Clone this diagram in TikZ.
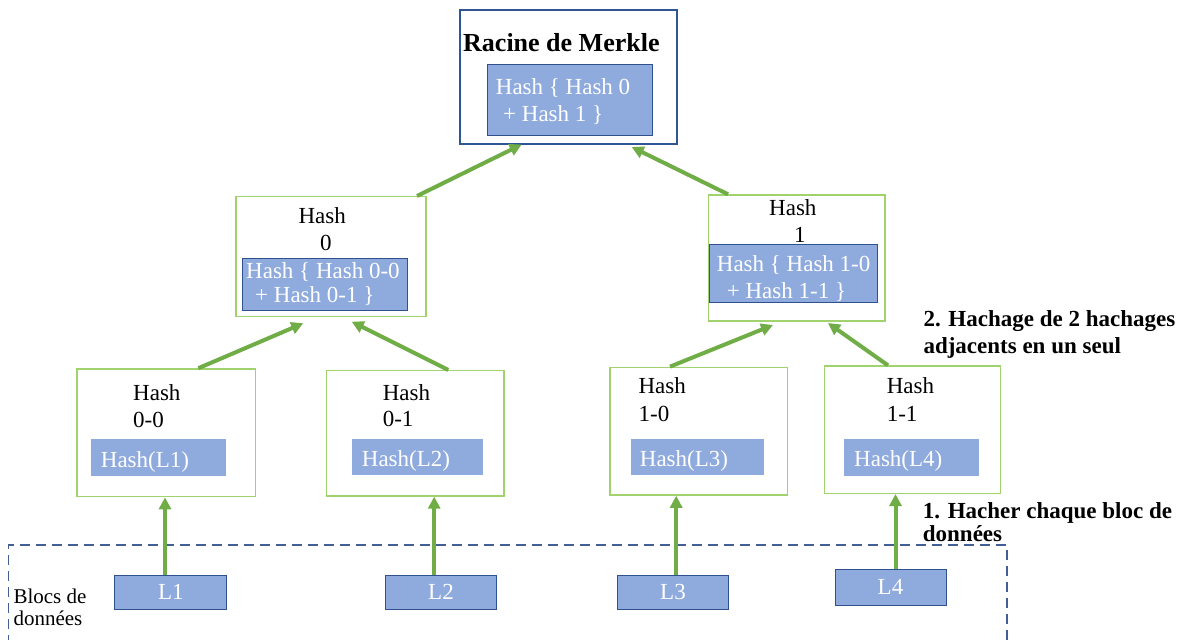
\documentclass[tikz,border=0pt]{standalone}
\usepackage{fontspec}
\setmainfont{Liberation Serif}
\usetikzlibrary{arrows.meta}
\definecolor{hashfill}{RGB}{143,170,220}
\definecolor{hashedge}{RGB}{47,82,143}
\definecolor{rootedge}{RGB}{47,85,151}
\definecolor{nodegreen}{RGB}{160,210,110}
\definecolor{arrowgreen}{RGB}{112,173,71}
\definecolor{blockedge}{RGB}{68,95,150}
\tikzset{
  box/.style={draw=nodegreen, line width=1.4pt, fill=white, inner sep=0pt},
  rootbox/.style={draw=rootedge, line width=1.2pt, fill=white, inner sep=0pt},
  hashbox/.style={draw=hashedge, line width=1pt, fill=hashfill, inner sep=0pt},
  leafhash/.style={fill=hashfill, inner sep=0pt},
  datablock/.style={draw=hashedge, line width=1pt, fill=hashfill, inner sep=0pt,
    text=white, font=\fontsize{23}{27}\selectfont},
  lbl/.style={anchor=base west, inner sep=0pt, font=\fontsize{23}{27}\selectfont},
  wlbl/.style={lbl, text=white},
  boldlbl/.style={lbl, font=\bfseries\fontsize{23}{27}\selectfont},
  smalllbl/.style={anchor=base west, inner sep=0pt, font=\fontsize{21}{25}\selectfont},
  arr/.style={draw=arrowgreen, line width=4pt,
    -{Triangle[length=12pt,width=12pt]}, arrowgreen},
}
\begin{document}
\begin{tikzpicture}[x=1pt,y=-1pt]
\useasboundingbox (0,0) rectangle (1184,640);

% data block frame (open at the bottom)
\draw[blockedge, line width=1.2pt, dash pattern=on 10pt off 6pt]
  (8.3,645) -- (8.3,545) -- (1007,545) -- (1007,645);

% Merkle root
\node[rootbox, minimum width=217pt, minimum height=134pt] (root) at (568.5,77) {};
\node[hashbox, minimum width=165pt, minimum height=71pt] (rooth) at (569.5,99.5) {};
\node[lbl, font=\bfseries\fontsize{26}{30}\selectfont] (roott) at (463,51.5) {Racine de Merkle};
\node[wlbl] (rootl1) at (495.7,94.3) {Hash \{ Hash 0};
\node[wlbl] (rootl2) at (503,121.7) {+ Hash 1 \}};

% level 1
\node[box, minimum width=190pt, minimum height=120pt] (h0) at (331,256.7) {};
\node[lbl] (h0a) at (298.3,223) {Hash};
\node[lbl] (h0b) at (320,250) {0};
\node[hashbox, minimum width=165pt, minimum height=51.7pt] (h0h) at (324.8,284.2) {};
\node[wlbl] (h0c) at (246,278) {Hash \{ Hash 0-0};
\node[wlbl] (h0d) at (255,302) {+ Hash 0-1 \}};

\node[box, minimum width=176.7pt, minimum height=126pt] (h1) at (796.7,258) {};
\node[lbl] (h1a) at (769,215.7) {Hash};
\node[lbl] (h1b) at (794,242.3) {1};
\node[hashbox, minimum width=168.3pt, minimum height=58pt] (h1h) at (793.2,273.3) {};
\node[wlbl] (h1c) at (716.7,271) {Hash \{ Hash 1-0};
\node[wlbl] (h1d) at (726.7,298.3) {+ Hash 1-1 \}};

% level 2
\node[box, minimum width=178.7pt, minimum height=127.7pt] (h00) at (166.3,432.8) {};
\node[lbl] at (133,400.7) {Hash};
\node[lbl] at (133,427.7) {0-0};
\node[leafhash, minimum width=135.3pt, minimum height=36.7pt] (h00h) at (158.3,457.3) {};
\node[wlbl] at (100.7,467) {Hash(L1)};

\node[box, minimum width=177.2pt, minimum height=125.3pt] (h01) at (415.3,433.3) {};
\node[lbl] at (382.6,400) {Hash};
\node[lbl] at (382.6,426.7) {0-1};
\node[leafhash, minimum width=130.8pt, minimum height=36pt] (h01h) at (417.3,457) {};
\node[wlbl] at (361.7,466) {Hash(L2)};

\node[box, minimum width=177.5pt, minimum height=127.7pt] (h10) at (698.6,431.2) {};
\node[lbl] at (638.4,393.3) {Hash};
\node[lbl] at (638.4,421.7) {1-0};
\node[leafhash, minimum width=133.4pt, minimum height=36pt] (h10h) at (697.5,457) {};
\node[wlbl] at (639.7,466) {Hash(L3)};

\node[box, minimum width=176pt, minimum height=127.3pt] (h11) at (912.3,429.7) {};
\node[lbl] at (886.6,393.3) {Hash};
\node[lbl] at (886.6,421.7) {1-1};
\node[leafhash, minimum width=134.7pt, minimum height=36.7pt] (h11h) at (911.7,457.3) {};
\node[wlbl] at (854,466) {Hash(L4)};

% data blocks
\node[datablock, minimum width=111.7pt, minimum height=34.3pt] (L1) at (170.8,592.2) {L1};
\node[datablock, minimum width=111.7pt, minimum height=34.3pt] (L2) at (441,592.2) {L2};
\node[datablock, minimum width=111.7pt, minimum height=34.3pt] (L3) at (673,592.2) {L3};
\node[datablock, minimum width=111pt, minimum height=35.7pt] (L4) at (890.5,587.2) {L4};
\node[smalllbl] (blocs1) at (13.3,603.3) {Blocs de};
\node[smalllbl] (blocs2) at (13.3,625) {données};

% annotations
\node[boldlbl] (step2a) at (923.3,326.7) {2. Hachage de 2 hachages};
\node[boldlbl] (step2b) at (923.3,353.3) {adjacents en un seul};
\node[boldlbl] (step1a) at (922.7,518.3) {1. Hacher chaque bloc de};
\node[boldlbl] (step1b) at (922.7,541.7) {données};

% hashing the data blocks
\coordinate (x1) at (165,0);
\coordinate (x2) at (434.2,0);
\coordinate (x3) at (676.2,0);
\coordinate (x4) at (895.5,0);
\draw[arr] (L1.north -| x1) -- (h00.south -| x1);
\draw[arr] (L2.north -| x2) -- (h01.south -| x2);
\draw[arr] (L3.north -| x3) -- (h10.south -| x3);
\draw[arr] (L4.north -| x4) -- (h11.south -| x4);

% combining adjacent hashes
\coordinate (t00) at (303.3,323.3);
\coordinate (t01) at (351.7,321.7);
\coordinate (t10) at (773,325);
\coordinate (t11) at (828,323);
\coordinate (t0) at (521.7,144.5);
\coordinate (t1) at (631.7,147);
\draw[arr] (h00.north -| 198.3,0) -- (t00);
\draw[arr] (h01.north -| 448.3,0) -- (t01);
\draw[arr] (h10.north -| 670,0) -- (t10);
\draw[arr] (h11.north -| 888,0) -- (t11);
\draw[arr] (h0.north -| 417,0) -- (t0);
\draw[arr] (h1.north -| 728,0) -- (t1);
\end{tikzpicture}
\end{document}
